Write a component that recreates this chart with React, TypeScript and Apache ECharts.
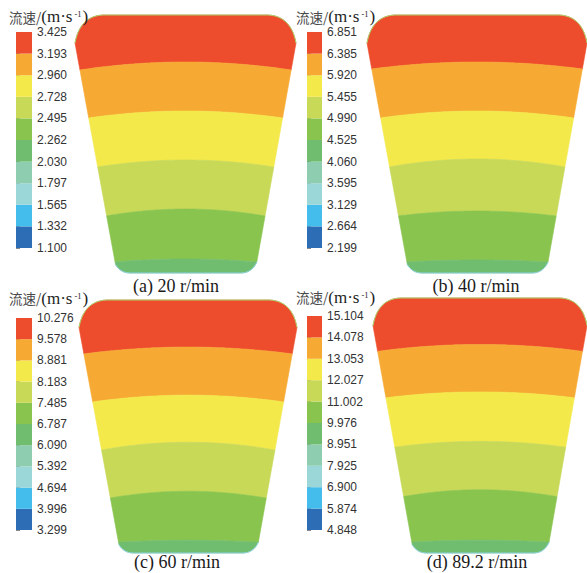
import React, { useEffect, useRef } from 'react';
import * as echarts from 'echarts';

// ---------- data ----------
const CAPTIONS = ['(a) 20 r/min', '(b) 40 r/min', '(c) 60 r/min', '(d) 89.2 r/min'];

// colour-bar tick labels, bottom -> top
const TICKS_A = ['1.100', '1.332', '1.565', '1.797', '2.030', '2.262', '2.495', '2.728', '2.960', '3.193', '3.425'];
const TICKS_B = ['2.199', '2.664', '3.129', '3.595', '4.060', '4.525', '4.990', '5.455', '5.920', '6.385', '6.851'];
const TICKS_C = ['3.299', '3.996', '4.694', '5.392', '6.090', '6.787', '7.485', '8.183', '8.881', '9.578', '10.276'];
const TICKS_D = ['4.848', '5.874', '6.900', '7.925', '8.951', '9.976', '11.002', '12.027', '13.053', '14.078', '15.104'];

// level colours, bottom -> top
const LEVEL_COLORS = ['#2d6db6', '#44bdec', '#9bd6d8', '#8fcdb0', '#70bd6f', '#89c44f', '#c8d957', '#f4e94b', '#f6aa33', '#ee4d2d'];

// contour boundaries in the section (depth at the wall, and centre rise), top -> bottom
const EDGE_A = [55, 103, 152, 201, 247];
const SAG_A = [8, 7, 7, 7, 3];
const EDGE_B = [54, 103, 152, 201, 247];
const SAG_B = [7, 7, 8, 5, 2];
const EDGE_C = [55, 104, 153, 202, 247];
const SAG_C = [7, 7, 8, 7, 2];
const EDGE_D = [54, 101, 151, 201, 247];
const SAG_D = [7, 6, 6, 7, 2];

// band index of each region (top -> bottom) in the level palette
const BAND_LEVELS = [9, 8, 7, 6, 5, 4];

const PANELS = [
  { caption: CAPTIONS[0], ticks: TICKS_A, edges: EDGE_A, sags: SAG_A },
  { caption: CAPTIONS[1], ticks: TICKS_B, edges: EDGE_B, sags: SAG_B },
  { caption: CAPTIONS[2], ticks: TICKS_C, edges: EDGE_C, sags: SAG_C },
  { caption: CAPTIONS[3], ticks: TICKS_D, edges: EDGE_D, sags: SAG_D },
];

// ---------- layout ----------
const BAR_GRIDS = [
  { left: 16, top: 32, width: 16, height: 216 },
  { left: 307, top: 32, width: 15, height: 216 },
  { left: 16, top: 318, width: 16, height: 212 },
  { left: 307, top: 316, width: 15, height: 214 },
];
const SHAPE_GRIDS = [
  { left: 75, top: 15, width: 221, height: 258 },
  { left: 367, top: 15, width: 220, height: 258 },
  { left: 79, top: 300, width: 218, height: 253 },
  { left: 373, top: 298, width: 220, height: 255 },
];
const TITLE_POS = [[9, 16.5], [296, 16.5], [9, 298], [296, 297]];
const CAPTION_POS = [[176, 286], [476, 286], [177, 562], [477, 562]];

// section geometry (shape units)
const SEC_H = 258;
const TOP_HW = 110, TOP_Y = 28, BOT_HW = 71, BOT_Y = 247;

type P = [number, number];

function quad(a: P, c: P, b: P, n: number, out: P[]) {
  for (let i = 1; i <= n; i++) {
    const t = i / n;
    const u = 1 - t;
    out.push([u * u * a[0] + 2 * u * t * c[0] + t * t * b[0], u * u * a[1] + 2 * u * t * c[1] + t * t * b[1]]);
  }
}

function buildOutline(): P[] {
  const pts: P[] = [[-TOP_HW, TOP_Y]];
  quad([-TOP_HW, TOP_Y], [-105, 1], [-82, 0], 14, pts);
  pts.push([82, 0]);
  quad([82, 0], [105, 1], [TOP_HW, TOP_Y], 14, pts);
  pts.push([BOT_HW, BOT_Y]);
  quad([BOT_HW, BOT_Y], [66, SEC_H], [55, SEC_H], 8, pts);
  pts.push([-55, SEC_H]);
  quad([-55, SEC_H], [-66, SEC_H], [-BOT_HW, BOT_Y], 8, pts);
  pts.pop();
  return pts;
}
const OUTLINE = buildOutline();

function halfWidth(y: number) {
  return TOP_HW - (TOP_HW - BOT_HW) * (y - TOP_Y) / (BOT_Y - TOP_Y);
}

function curve(edge: number, sag: number): P[] {
  const xs = halfWidth(edge);
  const pts: P[] = [];
  for (let x = -140; x <= 140; x += 2) {
    pts.push([x, edge - sag * (1 - (x / xs) * (x / xs))]);
  }
  return pts;
}

function clipPoly(subject: P[], clip: P[]): P[] {
  let area = 0;
  for (let i = 0; i < clip.length; i++) {
    const a = clip[i], b = clip[(i + 1) % clip.length];
    area += a[0] * b[1] - b[0] * a[1];
  }
  const sgn = area > 0 ? 1 : -1;
  let output = subject;
  for (let i = 0; i < clip.length; i++) {
    const A = clip[i], B = clip[(i + 1) % clip.length];
    const dx = B[0] - A[0], dy = B[1] - A[1];
    if (Math.abs(dx) + Math.abs(dy) < 1e-9) continue;
    const inside = (p: P) => sgn * (dx * (p[1] - A[1]) - dy * (p[0] - A[0])) >= 0;
    const inter = (p: P, q: P): P => {
      const rx = q[0] - p[0], ry = q[1] - p[1];
      const den = rx * dy - ry * dx;
      const t = ((A[0] - p[0]) * dy - (A[1] - p[1]) * dx) / den;
      return [p[0] + t * rx, p[1] + t * ry];
    };
    const input = output;
    output = [];
    if (!input.length) break;
    for (let j = 0; j < input.length; j++) {
      const E = input[j];
      const S = input[(j + input.length - 1) % input.length];
      if (inside(E)) {
        if (!inside(S)) output.push(inter(S, E));
        output.push(E);
      } else if (inside(S)) {
        output.push(inter(S, E));
      }
    }
  }
  return output;
}

function shapeRender(edges: number[], sags: number[]) {
  return (params: any, api: any) => {
    const k = api.value(0);
    const up: P[] = k === 0 ? [[-150, -30], [150, -30]] : curve(edges[k - 1], sags[k - 1]);
    const lo: P[] = k === edges.length ? [[-150, SEC_H + 30], [150, SEC_H + 30]] : curve(edges[k], sags[k]);
    const subject = [...up, ...lo.slice().reverse()];
    const poly = clipPoly(subject, OUTLINE).map((p) => api.coord(p));
    const color = LEVEL_COLORS[BAND_LEVELS[k]];
    const children: any[] = [
      { type: 'polygon', shape: { points: poly }, style: { fill: color, stroke: color, lineWidth: 0.6 } },
    ];
    if (k === 0) {
      const topEdge = OUTLINE.filter((p) => p[1] <= TOP_Y + 0.01).map((p) => api.coord(p));
      children.push({ type: 'polyline', shape: { points: topEdge }, style: { fill: 'none', stroke: '#a9d36c', lineWidth: 1 } });
    }
    if (k === edges.length) {
      const botEdge = OUTLINE.filter((p) => p[1] >= BOT_Y - 0.01).map((p) => api.coord(p));
      children.push({ type: 'polyline', shape: { points: botEdge }, style: { fill: 'none', stroke: '#8fd2e2', lineWidth: 1 } });
    }
    return { type: 'group', children };
  };
}

function barRender(params: any, api: any) {
  const i = api.value(0);
  const p1 = api.coord([0, i + 1]);
  const p2 = api.coord([1, i]);
  return {
    type: 'rect',
    shape: { x: p1[0], y: p1[1], width: p2[0] - p1[0], height: p2[1] - p1[1] },
    style: { fill: LEVEL_COLORS[i] },
  };
}

function buildOption() {
  const grid: any[] = [];
  const xAxis: any[] = [];
  const yAxis: any[] = [];
  const series: any[] = [];
  const graphic: any[] = [];

  PANELS.forEach((panel, pi) => {
    const bi = grid.length;
    grid.push({ ...BAR_GRIDS[pi], containLabel: false });
    xAxis.push({ type: 'value', gridIndex: bi, min: 0, max: 1, show: false });
    yAxis.push({
      type: 'value', gridIndex: bi, min: 0, max: 10, interval: 1, position: 'right',
      axisLine: { show: false },
      axisTick: { show: true, length: 4, lineStyle: { color: '#8a8a8a', width: 1 } },
      splitLine: { show: false },
      axisLabel: {
        margin: 5, color: '#333', fontSize: 12, fontFamily: 'Liberation Sans',
        showMinLabel: true, showMaxLabel: true,
        formatter: (v: number) => panel.ticks[Math.round(v)] ?? '',
      },
    });
    series.push({
      type: 'custom', xAxisIndex: bi, yAxisIndex: bi, renderItem: barRender,
      data: LEVEL_COLORS.map((_, i) => [i, i + 1]),
      silent: true,
    });

    const si = grid.length;
    grid.push({ ...SHAPE_GRIDS[pi], containLabel: false });
    xAxis.push({ type: 'value', gridIndex: si, min: -110, max: 110, show: false });
    yAxis.push({ type: 'value', gridIndex: si, min: 0, max: SEC_H, inverse: true, show: false });
    series.push({
      type: 'custom', xAxisIndex: si, yAxisIndex: si, renderItem: shapeRender(panel.edges, panel.sags),
      data: BAND_LEVELS.map((_, k) => [k, 0]),
      silent: true,
      clip: false,
    });

    graphic.push({
      type: 'text', x: TITLE_POS[pi][0], y: TITLE_POS[pi][1], z: 100,
      style: {
        text: '{a|流速/}{b|(m·s}{c|-1}{b|)}',
        verticalAlign: 'middle',
        rich: {
          a: { fontFamily: 'Noto Sans CJK SC', fontSize: 13.5, fill: '#4a4a4a', lineHeight: 14 },
          b: { fontFamily: 'Liberation Serif', fontSize: 17, fill: '#1e1e1e', lineHeight: 14 },
          c: { fontFamily: 'Liberation Serif', fontSize: 8.5, fill: '#1e1e1e', verticalAlign: 'top', lineHeight: 14, padding: [0, 1, 0, 2] },
        },
      },
    });
    graphic.push({
      type: 'text', x: CAPTION_POS[pi][0], y: CAPTION_POS[pi][1], z: 100,
      style: {
        text: panel.caption, fontFamily: 'Liberation Serif', fontSize: 18, fill: '#1a1a1a',
        align: 'center', verticalAlign: 'middle',
      },
    });
  });

  return { animation: false, backgroundColor: '#ffffff', grid, xAxis, yAxis, series, graphic };
}

export default function App() {
  const ref = useRef<HTMLDivElement>(null);
  useEffect(() => {
    if (!ref.current) return;
    const chart = echarts.init(ref.current, undefined, { renderer: 'svg' });
    chart.setOption(buildOption() as any);
    return () => chart.dispose();
  }, []);
  return <div ref={ref} style={{ position: 'absolute', left: 0, top: 0, width: 587, height: 573 }} />;
}
